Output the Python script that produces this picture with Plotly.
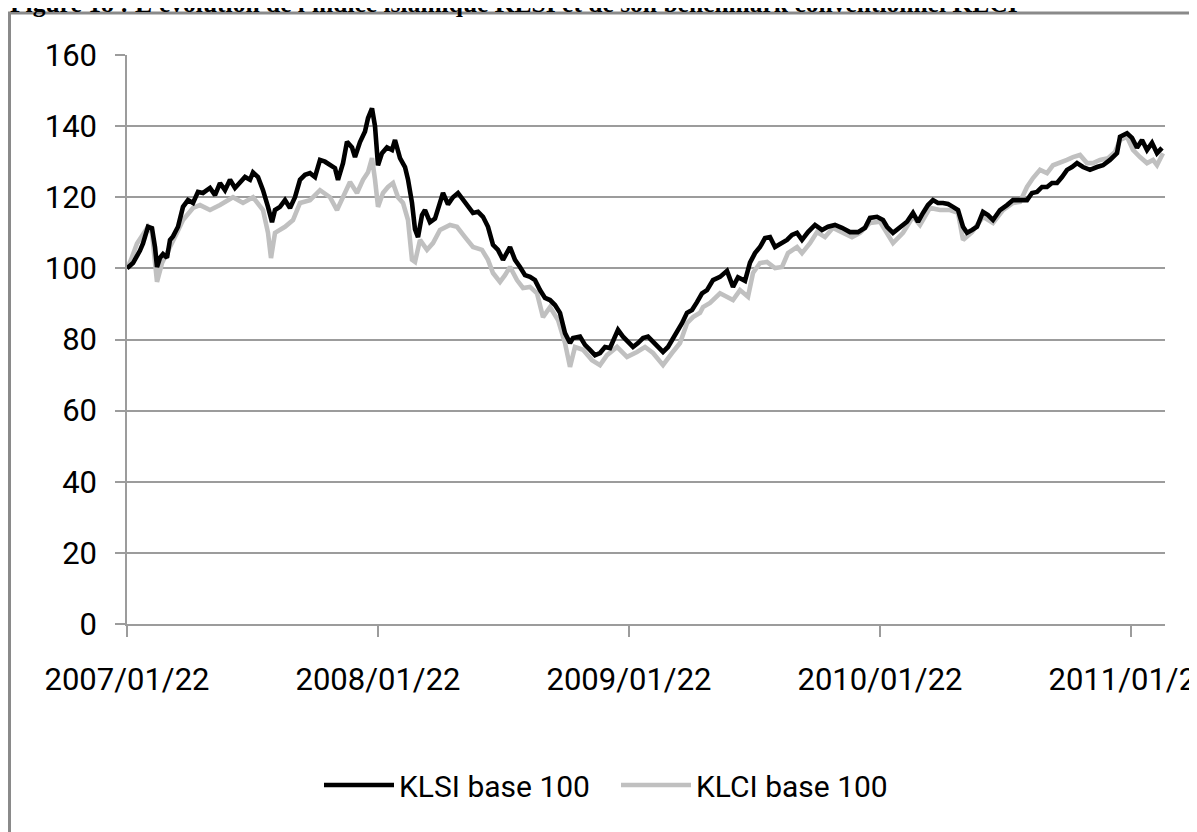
import plotly.graph_objects as go

# x = trading-session index from 2007/01/22 (category axis as in the original)
tick_sessions = [0, 251, 502, 753, 1004]
tick_labels = ["2007/01/22", "2008/01/22", "2009/01/22", "2010/01/22", "2011/01/22"]

klsi_session = [0, 6, 13, 16, 21, 25, 28, 30, 33, 36, 40, 43, 46, 51, 56, 61, 66, 71, 76, 83,
                88, 93, 98, 103, 108, 113, 118, 123, 126, 131, 136, 141, 145, 148, 153, 158, 163, 168, 173, 178,
                183, 188, 193, 198, 203, 208, 211, 216, 220, 225, 228, 233, 238, 241, 245, 248, 251, 255, 260, 265,
                268, 273, 278, 281, 285, 288, 291, 295, 298, 303, 308, 313, 316, 321, 326, 331, 336, 341, 346, 351,
                356, 361, 366, 371, 376, 383, 388, 393, 398, 403, 408, 413, 418, 423, 428, 433, 438, 443, 446, 453,
                458, 463, 468, 473, 478, 483, 488, 491, 496, 501, 506, 511, 516, 521, 526, 531, 536, 541, 545, 550,
                555, 560, 565, 570, 575, 580, 586, 593, 600, 606, 611, 618, 623, 628, 633, 638, 643, 648, 655, 660,
                665, 670, 675, 681, 688, 695, 701, 708, 715, 723, 731, 738, 743, 750, 756, 760, 766, 773, 780, 786,
                791, 796, 801, 806, 811, 816, 821, 826, 831, 836, 840, 845, 850, 856, 861, 866, 873, 880, 886, 893,
                900, 905, 910, 915, 920, 925, 930, 935, 940, 945, 950, 956, 963, 970, 976, 983, 990, 993, 1000, 1005,
                1010, 1015, 1020, 1025, 1030, 1035]
klsi_value = [100, 101.5, 105, 107, 111.7, 111.3, 106, 100.4, 103, 104, 103, 108, 109, 111.7, 117.3, 119.2, 118.4, 121.5, 121.2, 122.6,
              120.6, 124, 122, 124.9, 122.6, 124, 125.7, 124.9, 127, 125.7, 122, 117.3, 113, 116.4, 117.3, 119.2, 117, 120, 124.9, 126.3,
              126.8, 125.7, 130.5, 130, 129, 128.2, 124.9, 129.6, 135.6, 134, 131.3, 135.5, 138.5, 142.2, 145, 140, 129, 132.4, 134, 133.3,
              136.1, 131, 128.5, 125, 118.4, 111, 108.8, 115, 116.4, 113, 114, 119, 121.2, 118, 120, 121.2, 119.2, 117.3, 115.6, 115.9,
              114.5, 111.7, 106.6, 105.2, 102.4, 106, 102.4, 100.4, 98.1, 97.6, 96.7, 93.9, 91.7, 91.1, 89.7, 87.5, 81.8, 79, 80.4, 80.8,
              78.5, 77.1, 75.6, 76.2, 77.9, 77.6, 80.4, 82.7, 80.8, 79.3, 77.9, 79, 80.4, 80.8, 79.3, 77.9, 76.5, 77.9, 79.9, 81.8,
              84.6, 87.5, 88.3, 90.5, 93, 93.9, 96.7, 97.6, 99.3, 94.8, 97.5, 96.5, 101.6, 104.3, 106, 108.5, 108.8, 106, 107.1, 108,
              109.4, 110, 108, 110.2, 112.2, 110.8, 111.7, 112.2, 111.4, 110.2, 110.2, 111.4, 114.2, 114.5, 113.6, 111.7, 110, 111.7, 113.1, 115.6,
              113.1, 115.6, 117.8, 119.2, 118.4, 118.4, 118.1, 117.3, 116.4, 111.7, 110, 110.8, 111.7, 115.9, 115, 113.6, 116.4, 117.8, 119.2, 119.2,
              119.2, 121.2, 121.5, 122.9, 122.9, 124, 124, 125.7, 127.7, 128.5, 129.6, 128.5, 127.7, 128.5, 129, 130.5, 132.4, 137, 138, 136.7,
              133.9, 136.1, 133.3, 135.3, 132.4, 133.9]

klci_session = [0, 4, 10, 21, 25, 30, 35, 40, 45, 50, 56, 66, 73, 83, 93, 106, 116, 126, 136, 141,
                144, 148, 158, 166, 173, 183, 193, 203, 210, 216, 223, 230, 236, 241, 245, 248, 251, 256, 261, 266,
                271, 276, 281, 285, 288, 293, 300, 306, 313, 323, 330, 338, 346, 355, 361, 366, 373, 378, 383, 390,
                396, 403, 410, 416, 423, 431, 438, 443, 448, 456, 465, 473, 480, 490, 500, 510, 518, 526, 536, 545,
                553, 560, 566, 573, 576, 583, 593, 606, 613, 621, 626, 633, 640, 648, 655, 661, 670, 675, 683, 690,
                698, 706, 716, 725, 733, 743, 753, 760, 766, 776, 786, 793, 803, 813, 823, 831, 836, 845, 856, 866,
                876, 886, 893, 900, 906, 913, 920, 926, 933, 940, 946, 953, 960, 966, 973, 981, 988, 993, 1000, 1006,
                1013, 1020, 1026, 1030, 1036]
klci_value = [100, 102.4, 107, 111.7, 110, 96.2, 101.5, 104.3, 106.5, 110, 113.6, 117, 117.8, 116.4, 117.8, 120, 118.4, 120, 116.4, 110,
              102.9, 110, 111.7, 113.6, 118.4, 119.2, 122, 120, 116.4, 120, 124.3, 121.2, 124.9, 127, 131, 125, 117.3, 121.2, 122.9, 124,
              120, 118.4, 113.6, 102.4, 101.8, 108, 105.2, 107.1, 110.8, 112.2, 111.7, 108.8, 106, 105.2, 102.4, 98.7, 96.2, 98.1, 100.4, 96.7,
              94.5, 94.8, 93, 86.3, 89.1, 85.5, 79, 72.3, 77.9, 77.1, 74.2, 72.8, 75.6, 77.9, 75.1, 76.5, 77.9, 76.2, 72.8, 76.2,
              79, 84.6, 86.3, 87.5, 89.1, 90.3, 93, 91.1, 93.9, 92, 98.7, 101.5, 101.8, 100.1, 100.4, 104.3, 106, 104.3, 107.1, 110.2,
              108.8, 111.4, 110.2, 108.8, 110, 112.8, 113.1, 110, 107.1, 110, 114.5, 112.2, 117, 116.4, 116.4, 115.6, 108, 110.2, 114.5, 112.8,
              116.4, 118.4, 118.7, 122.9, 125.4, 127.7, 126.8, 129, 129.6, 130.5, 131.3, 131.9, 129.6, 129.6, 130.5, 131, 132.7, 136.1, 137, 133.3,
              131.3, 129.6, 130.5, 129, 132.4]

assert len(klsi_session) == len(klsi_value)
assert len(klci_session) == len(klci_value)

TITLE = "Figure 18 : L'évolution de l'indice islamique KLSI et de son benchmark conventionnel KLCI"
FONT = "Roboto, 'Open Sans', sans-serif"
GRID = "#9c9c9c"

# the page body keeps an 8px margin, so the figure is 8px smaller than the window
W, H = 1189, 824
ML, MR, MT, MB = 119, 32, 47, 208
PW, PH = W - ML - MR, H - MT - MB


def px(fx):  # figure pixel -> paper x
    return (fx - ML) / PW


def py(fy):  # figure pixel -> paper y
    return (H - MB - fy) / PH


fig = go.Figure()
fig.add_trace(go.Scatter(x=klci_session, y=klci_value, mode="lines", name="KLCI base 100",
                         line=dict(color="#c0c0c0", width=4.6), legendrank=2))
fig.add_trace(go.Scatter(x=klsi_session, y=klsi_value, mode="lines", name="KLSI base 100",
                         line=dict(color="#000000", width=4.6), legendrank=1))

fig.update_layout(
    width=W, height=H,
    margin=dict(l=ML, r=MR, t=MT, b=MB, autoexpand=False),
    paper_bgcolor="white", plot_bgcolor="white",
    font=dict(family=FONT, size=30, color="#000000"),
    showlegend=True,
    legend=dict(orientation="h", x=px(608), xanchor="center", y=py(777), yanchor="middle",
                font=dict(family=FONT, size=30, color="#000000"), itemwidth=70,
                entrywidth=212, entrywidthmode="pixels",
                bgcolor="rgba(0,0,0,0)", tracegroupgap=0),
    xaxis=dict(range=[0, 1038], showgrid=False, zeroline=False,
               tickmode="array", tickvals=tick_sessions, ticktext=tick_labels,
               ticks="outside", ticklen=11, tickcolor=GRID, tickwidth=1.5,
               showline=True, linecolor=GRID, linewidth=1.5, ticklabeloverflow="allow",
               tickfont=dict(family=FONT, size=31), ticklabelstandoff=16),
    yaxis=dict(range=[0, 160], dtick=20, tick0=0, showgrid=True, gridcolor=GRID, gridwidth=1.5,
               zeroline=False, ticks="outside", ticklen=10, tickcolor=GRID, tickwidth=1.5,
               showline=True, linecolor=GRID, linewidth=1.5,
               tickfont=dict(family=FONT, size=31), ticklabelstandoff=12),
    hovermode=False,
)

# outer frame of the figure (runs off the right and bottom edges)
fig.add_shape(type="rect", xref="paper", yref="paper",
              x0=px(1.5), x1=px(W + 20), y0=py(H + 30), y1=py(5),
              line=dict(color="#8a8a8a", width=3), layer="below")

fig.add_annotation(text="<b>" + TITLE + "</b>", xref="paper", yref="paper",
                   x=px(0), xanchor="left", y=py(12), yanchor="bottom",
                   showarrow=False,
                   font=dict(family="Liberation Serif, 'Times New Roman', serif", size=25.5, color="#000000"))

fig.write_html("out.html")
